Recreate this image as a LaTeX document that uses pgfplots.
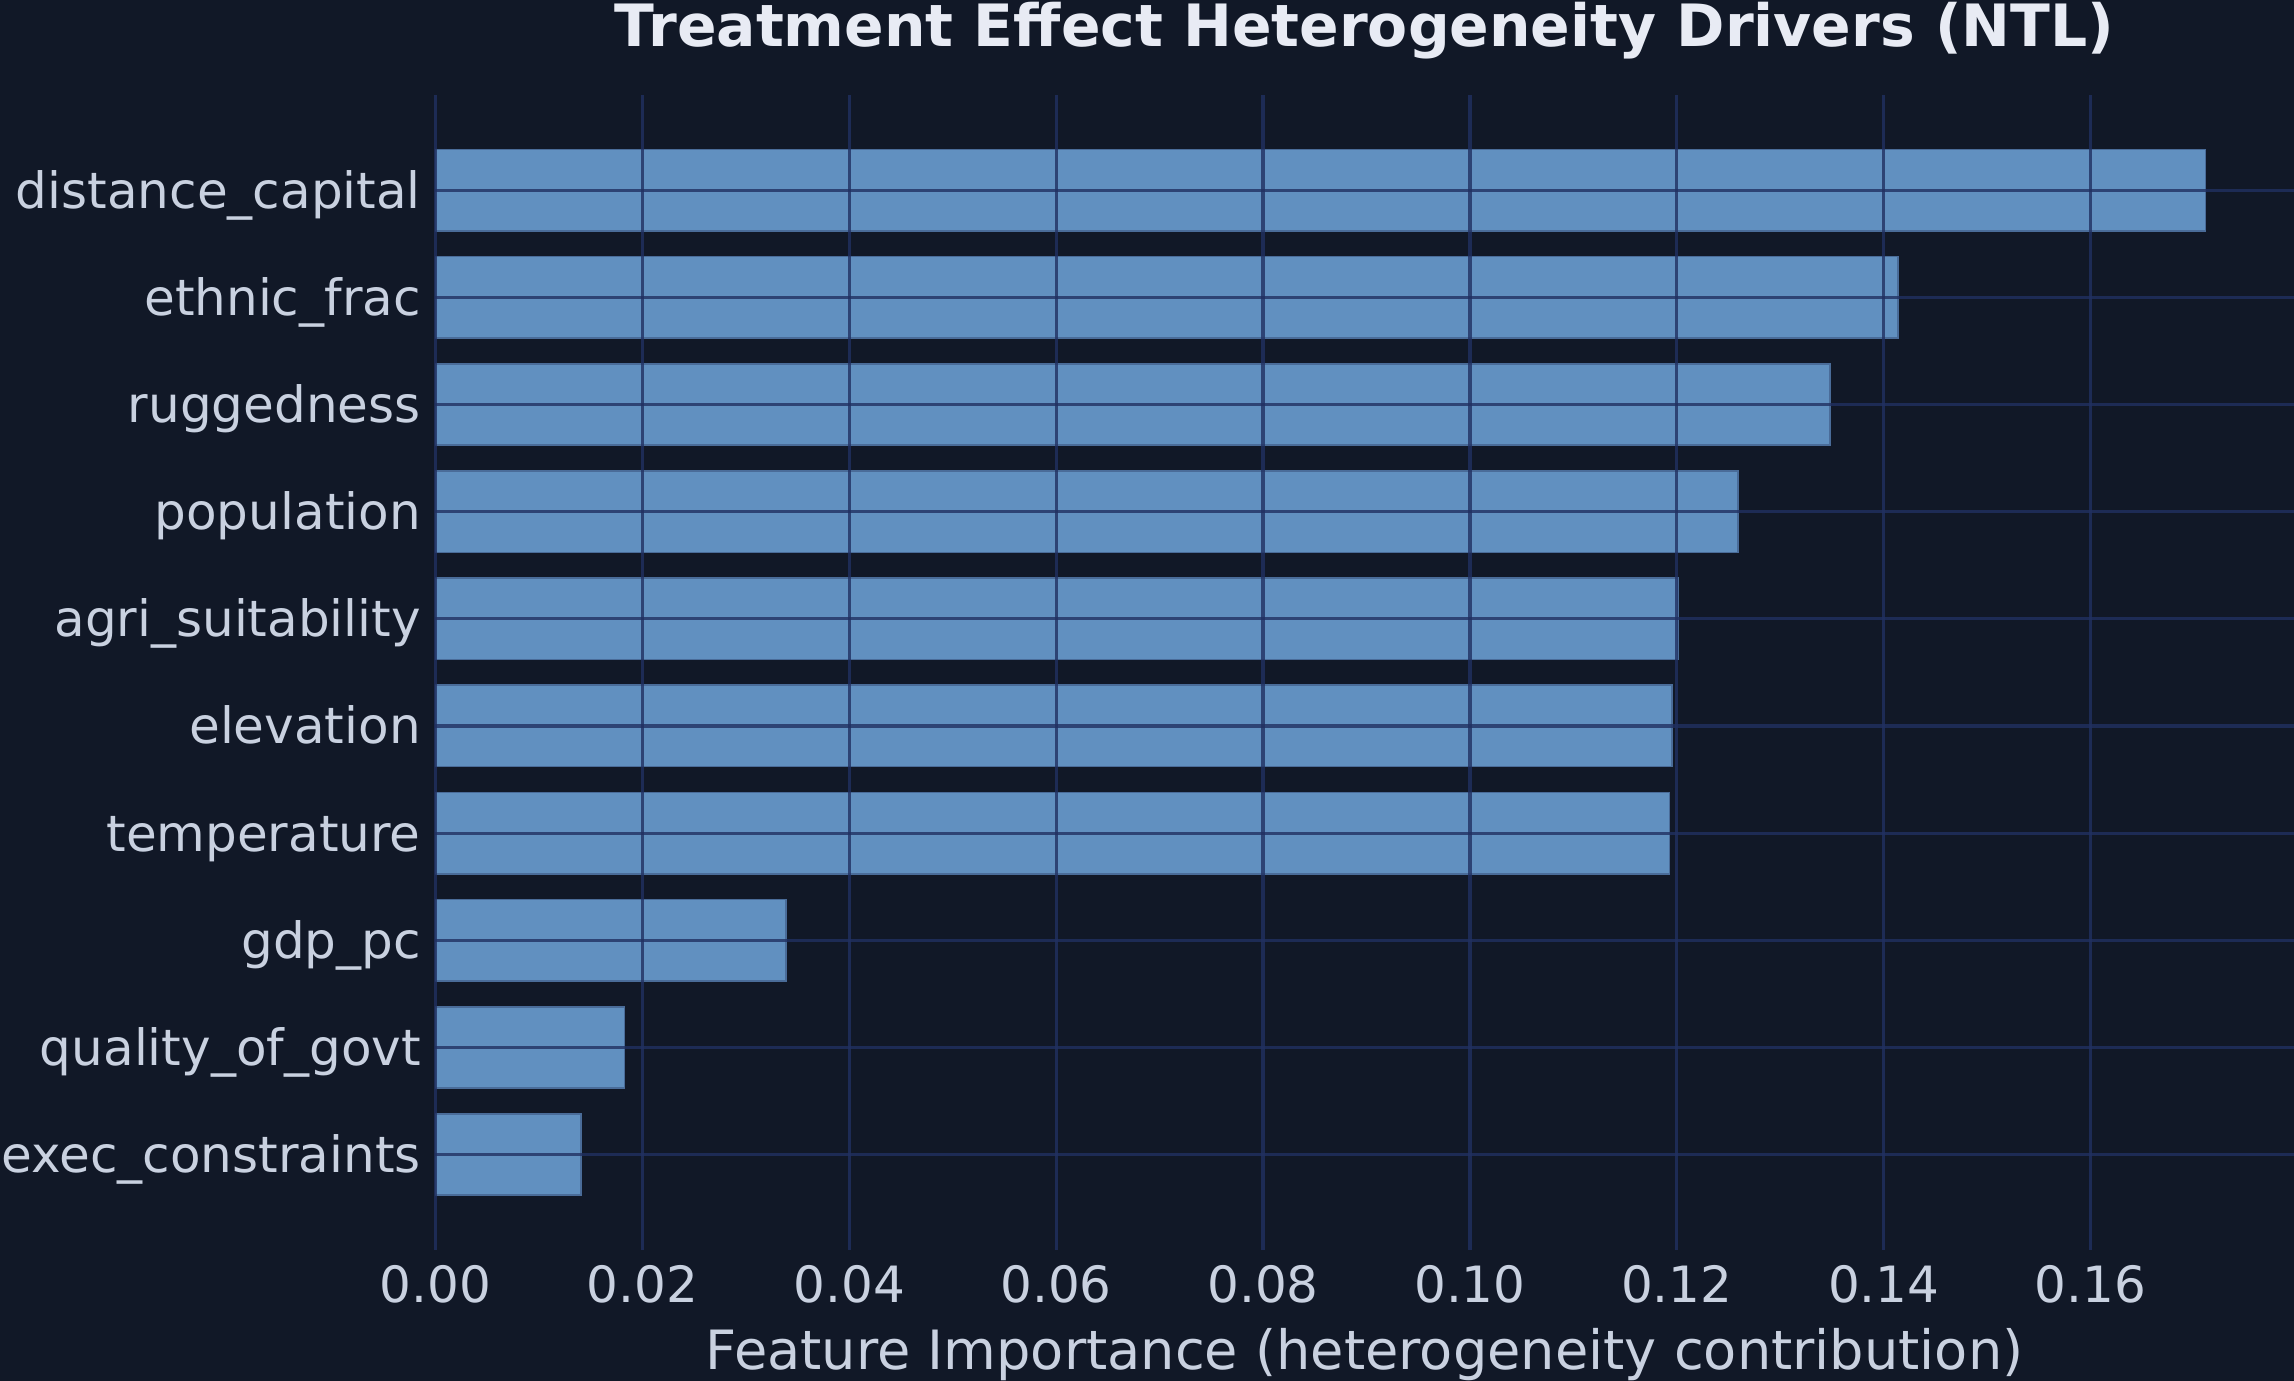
\documentclass[border=0pt]{standalone}
\usepackage{pgfplots}
\pgfplotsset{compat=1.18}
\usepackage{fontspec}
\setmainfont{DejaVu Sans}

\definecolor{bgcol}{HTML}{111827}
\definecolor{barcol}{HTML}{6190C0}
\definecolor{baredge}{HTML}{4A6C99}
\definecolor{gridcol}{HTML}{213061}
\definecolor{labcol}{HTML}{C9D1E0}
\definecolor{titlecol}{HTML}{E8EBF4}

\begin{document}
\begin{tikzpicture}
  \fill[bgcol] (-104.5pt,-31.5pt) rectangle (446pt,299.9pt);
  \begin{axis}[
      at={(0,0)}, anchor=south west,
      scale only axis,
      width=446pt, height=277.1pt,
      xmin=0, xmax=0.17966,
      ymin=-0.888, ymax=9.888,
      axis on top,
      axis line style={draw=none},
      major tick length=0pt,
      xtick={0,0.02,...,0.16},
      ytick={0,...,9},
      yticklabels={exec\_constraints,quality\_of\_govt,gdp\_pc,temperature,elevation,agri\_suitability,population,ruggedness,ethnic\_frac,distance\_capital},
      grid=major,
      major grid style={draw=gridcol, line width=0.75pt, opacity=0.8},
      xticklabel style={/pgf/number format/fixed, /pgf/number format/fixed zerofill, /pgf/number format/precision=2, anchor=base, yshift=-12.6pt},
      yticklabel style={text height=8.6pt, text depth=0pt},
      /pgf/number format/assume math mode=true,
      scaled x ticks=false,
      ticklabel style={font=\fontsize{12}{14}\selectfont, color=labcol},
      title={Treatment Effect Heterogeneity Drivers (NTL)},
      title style={font=\bfseries\fontsize{14}{16}\selectfont, color=titlecol, at={(axis description cs:0.5,1)}, anchor=base, yshift=5.6pt},
      xlabel={Feature Importance (heterogeneity contribution)},
      xlabel style={font=\fontsize{13}{15}\selectfont, color=labcol, at={(axis description cs:0.5,0)}, anchor=base, yshift=-28.7pt},
    ]
    \addplot[xbar, bar width=0.76, fill=barcol, draw=baredge, line width=0.4pt]
      coordinates {
        (0.01405,0) (0.01826,1) (0.0339,2) (0.1193,3) (0.1195,4)
        (0.1201,5) (0.1259,6) (0.1348,7) (0.1414,8) (0.1711,9)
      };
  \end{axis}
  \pgfresetboundingbox
  \useasboundingbox (-104.5pt,-31.5pt) rectangle (446pt,299.9pt);
\end{tikzpicture}
\end{document}
